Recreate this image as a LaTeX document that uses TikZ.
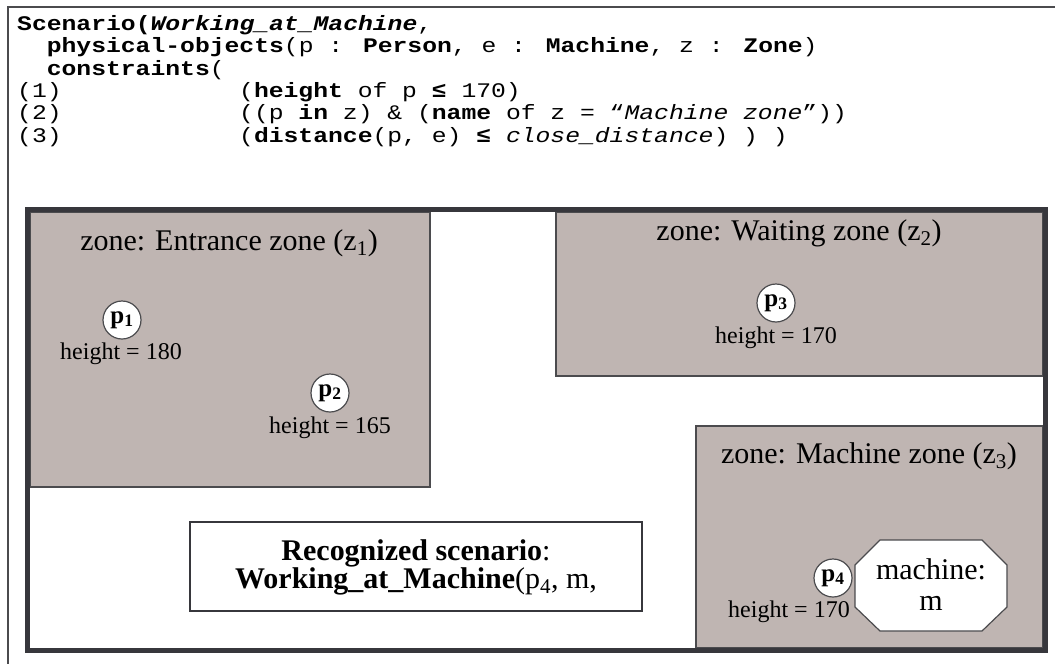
\documentclass[tikz,border=0pt]{standalone}
\usepackage{fontspec}
\usepackage{graphicx}
\setmainfont{Liberation Serif}
\newfontfamily\codefont{Liberation Mono}
\usetikzlibrary{positioning}
\definecolor{zonegray}{RGB}{191,181,178}
\definecolor{framegray}{RGB}{55,55,60}
\definecolor{edgegray}{RGB}{75,75,78}
% Courier-like proportions: squash the mono glyphs a little
\newcommand{\codetext}[1]{\scalebox{1}[0.84]{#1}}

\begin{document}
\begin{tikzpicture}
    [
        x=1pt, y=-1pt,
        zone/.style={draw=edgegray, line width=1.2pt, fill=zonegray,},
        zonelabel/.style={anchor=base, inner sep=0pt, font=\fontsize{30}{32}\selectfont,},
        person/.style={circle, draw=edgegray, line width=1.2pt, fill=white, minimum size=38pt, inner sep=0pt, font=\fontsize{25}{26}\selectfont\bfseries,},
        heightlabel/.style={anchor=base, inner sep=0pt, font=\fontsize{24}{26}\selectfont,},
        code/.style={anchor=base west, inner sep=0pt, font=\fontsize{24.7}{26}\codefont,},
        machine/.style={draw=edgegray, line width=1.2pt, fill=white,},
    ]

    \useasboundingbox (0,0) rectangle (1055,664);
    \clip (0,0) rectangle (1055,664);

    % outer box, cut off at the right and bottom
    \draw [edgegray, line width=1.5pt] (8,7) rectangle (1080,690);

    % scenario definition
    \node (scen)  at (17,30)      [code] {\codetext{\textbf{Scenario(\textit{Working\_at\_Machine}},}};
    \node (objs)  at (46.6,52.5)  [code] {\codetext{\textbf{physical-objects}(p : \textbf{Person}, e : \textbf{Machine}, z : \textbf{Zone})}};
    \node (cons)  at (46.6,75)    [code] {\codetext{\textbf{constraints}(}};
    \node (n1)    at (17,97)      [code] {\codetext{(1)}};
    \node (n2)    at (17,119.5)   [code] {\codetext{(2)}};
    \node (n3)    at (17,142)     [code] {\codetext{(3)}};
    \node (c1)    at (239,97)     [code] {\codetext{(\textbf{height} of p \textbf{≤} 170)}};
    \node (c2)    at (239,119.5)  [code] {\codetext{((p \textbf{in} z) \& (\textbf{name} of z = “\textit{Machine zone}”))}};
    \node (c3)    at (239,142)    [code] {\codetext{(\textbf{distance}(p, e) \textbf{≤} \textit{close\_distance}) ) )}};

    % zones
    \draw [zone] (30,212) rectangle (430,487);
    \draw [zone] (556,212) rectangle (1043,376);
    \draw [zone] (696,426) rectangle (1043,648);

    \node (z1) at (229,250) [zonelabel] {zone: Entrance zone (z\textsubscript{1})};
    \node (z2) at (799,240) [zonelabel] {zone: Waiting zone (z\textsubscript{2})};
    \node (z3) at (869,463) [zonelabel] {zone: Machine zone (z\textsubscript{3})};

    % persons
    \node (p1) at (122,320) [person] {p\textsubscript{1}};
    \node (p2) at (330,393) [person] {p\textsubscript{2}};
    \node (p3) at (776,303) [person] {p\textsubscript{3}};
    \node (p4) at (833,578) [person] {p\textsubscript{4}};

    \node (h1) at (121,359) [heightlabel] {height = 180};
    \node (h2) at (330,433) [heightlabel] {height = 165};
    \node (h3) at (776,343) [heightlabel] {height = 170};
    \node (h4) at (789,617) [heightlabel] {height = 170};

    % machine
    \draw [machine] (855,565) -- (880,540) -- (982,540) -- (1007,565)
        -- (1007,607) -- (982,631) -- (880,631) -- (855,607) -- cycle;
    \node (m) at (931,585) [align=center, font=\fontsize{30}{31}\selectfont] {machine:\\m};

    % recognized scenario
    \draw [draw=framegray, line width=1.5pt, fill=white] (190,522) rectangle (642,611);
    \node (recog) at (416,567) [align=center, font=\fontsize{30}{28}\selectfont]
        {\textbf{Recognized scenario}:\\\textbf{Working\_at\_Machine}(p\textsubscript{4}, m,};

    % scene frame
    \draw [framegray, line width=5pt] (27.5,209.5) rectangle (1045.5,650);

\end{tikzpicture}
\end{document}
